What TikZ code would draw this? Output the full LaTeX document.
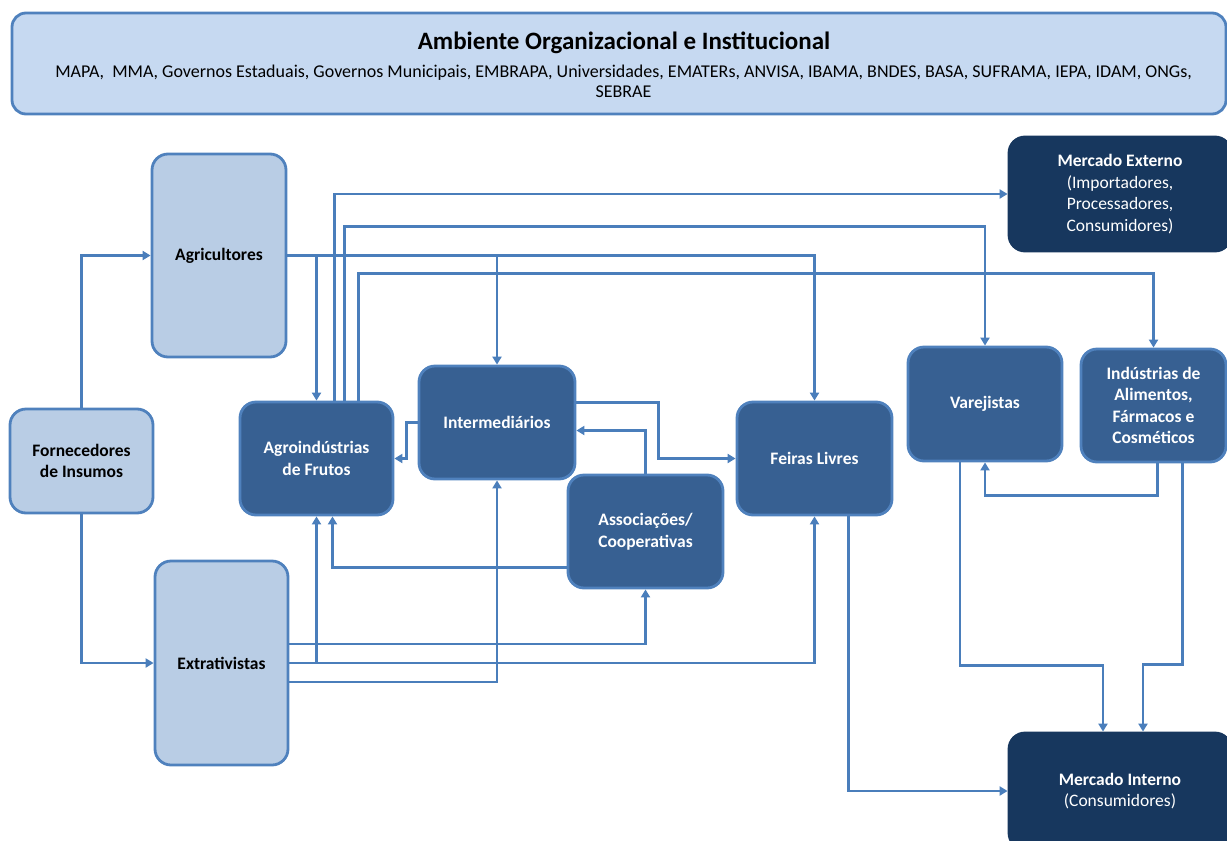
\documentclass[tikz,border=0pt]{standalone}
\usepackage{fontspec}
\setmainfont{Carlito}
\usetikzlibrary{arrows.meta}
\definecolor{borda}{HTML}{4F81BD}
\definecolor{linha}{HTML}{4A7EBB}
\definecolor{azulceu}{HTML}{C6D9F1}
\definecolor{azulclaro}{HTML}{B9CDE5}
\definecolor{azulmedio}{HTML}{376092}
\definecolor{azulnoite}{HTML}{17375E}
\begin{document}
\begin{tikzpicture}[x=1pt,y=-1pt,>={Triangle[length=8pt,width=9pt]},
    caixa/.style={draw=borda,line width=2.8pt,rounded corners=16pt,align=center,inner sep=0pt,
      font=\fontsize{17.5}{21.5}\selectfont\bfseries},
    produtor/.style={caixa,fill=azulclaro,text=black},
    agente/.style={caixa,fill=azulmedio,text=white},
    mercado/.style={caixa,fill=azulnoite,text=white,draw=azulnoite,font=\fontsize{17.5}{21.5}\selectfont},
    fluxo/.style={draw=linha,line width=2.4pt,->}]
    \useasboundingbox (0,0) rectangle (1227,841);
    \clip (0,0) rectangle (1227,841);

    \node[draw=borda,fill=azulceu,line width=2.8pt,rounded corners=14pt,minimum width=1214,minimum height=101,inner sep=0pt] (amb) at (619,63.5) {};
    \node[font=\fontsize{25}{28}\selectfont\bfseries] (ambtit) at (624,43) {Ambiente Organizacional e Institucional};
    \node[font=\fontsize{18}{20}\selectfont,align=center] (amblista) at (623.5,81)
      {MAPA,\ \ MMA, Governos Estaduais, Governos Municipais, EMBRAPA, Universidades, EMATERs, ANVISA, IBAMA, BNDES, BASA, SUFRAMA, IEPA, IDAM, ONGs,\\SEBRAE};

    \node[produtor,minimum width=134,minimum height=203] (agric) at (219,255.5) {Agricultores};
    \node[produtor,minimum width=143,minimum height=104] (fornec) at (81.5,461) {Fornecedores\\de Insumos};
    \node[produtor,minimum width=133,minimum height=204] (extrat) at (221.5,663) {Extrativistas};

    \node[agente,minimum width=153,minimum height=113] (agroind) at (316.5,458.5) {Agroindústrias\\de Frutos};
    \node[agente,minimum width=156,minimum height=113] (interm) at (497,422.5) {Intermediários};
    \node[agente,minimum width=155,minimum height=113] (assoc) at (645.5,531.5) {Associações/\\Cooperativas};
    \node[agente,minimum width=155,minimum height=113] (feiras) at (814.5,458.5) {Feiras Livres};
    \node[agente,minimum width=154,minimum height=114] (varej) at (985,404) {Varejistas};
    \node[agente,minimum width=145,minimum height=113] (indust) at (1153.5,405.5) {Indústrias de\\Alimentos,\\Fármacos e\\Cosméticos};

    \node[mercado,minimum width=222,minimum height=114] (mext) at (1120,194) {\textbf{Mercado Externo}\\(Importadores,\\Processadores,\\Consumidores)};
    \node[mercado,minimum width=222,minimum height=116] (mint) at (1120,791) {\textbf{Mercado Interno}\\(Consumidores)};

    \draw[fluxo] (fornec.north) |- (agric.west);
    \draw[fluxo] (fornec.south) |- (extrat.west);

    \draw[fluxo] (agric.east) -| (feiras.north);
    \draw[fluxo] (agric.east -| agroind.north) -- (agroind.north);
    \draw[fluxo] (agric.east -| interm.north) -- (interm.north);

    \draw[fluxo] ([xshift=18]agroind.north) |- (mext.west);
    \draw[fluxo] ([xshift=28]agroind.north) -- ++(0,-174) -| (varej.north);
    \draw[fluxo] ([xshift=42]agroind.north) -- ++(0,-127) -| (indust.north);

    \draw[fluxo] (interm.west) -- ++(-11,0) |- (agroind.east);
    \draw[fluxo] ([yshift=20]interm.east) -- ++(82,0) |- (feiras.west);
    \draw[fluxo] (assoc.north) |- ([yshift=-8]interm.east);
    \draw[fluxo] ([yshift=-36]assoc.west) -| ([xshift=16]agroind.south);

    \draw[fluxo] ([yshift=19]extrat.east) -| (assoc.south);
    \draw[fluxo] (extrat.east) -| (feiras.south);
    \draw[fluxo] (extrat.east -| agroind.south) -- (agroind.south);
    \draw[fluxo] ([yshift=-19]extrat.east) -| (interm.south);

    \draw[fluxo] ([xshift=34]feiras.south) |- (mint.west);
    \draw[fluxo] ([xshift=-25]varej.south) -- ++(0,203) -| ([xshift=-17]mint.north);
    \draw[fluxo] ([xshift=4]indust.south) -- ++(0,32) -| (varej.south);
    \draw[fluxo] ([xshift=29]indust.south) -- ++(0,201) -| ([xshift=23]mint.north);
\end{tikzpicture}
\end{document}
